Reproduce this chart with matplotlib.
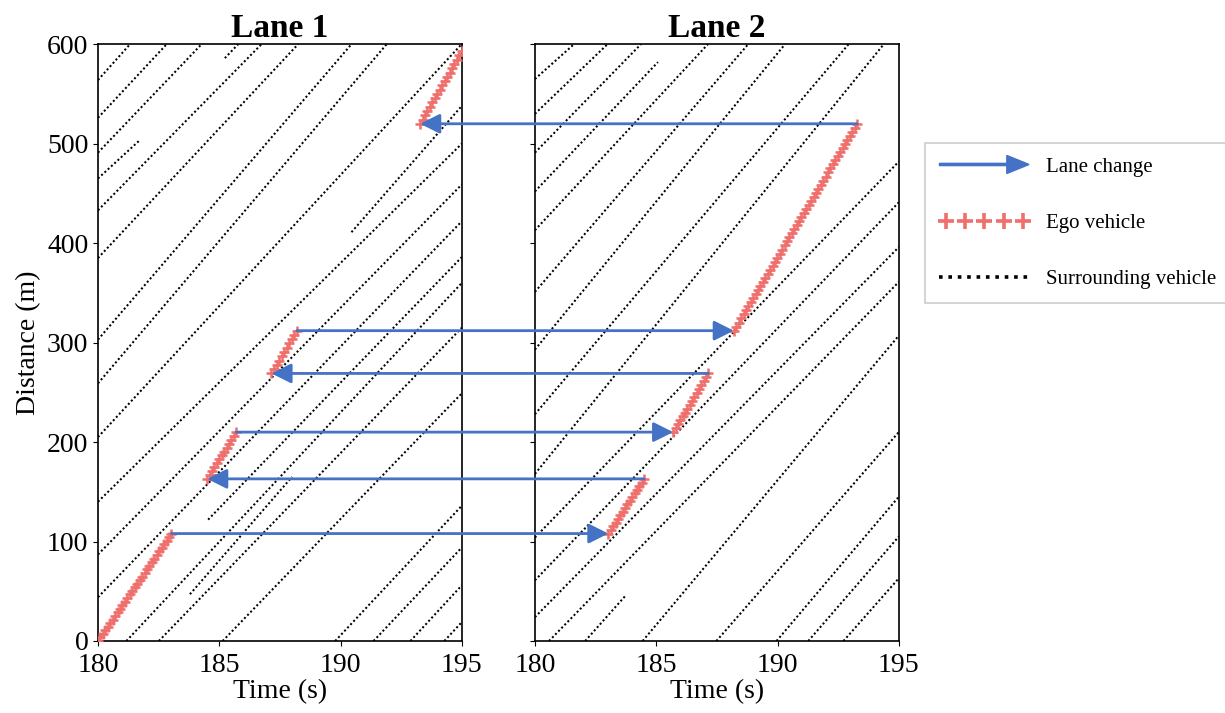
import numpy as np
import matplotlib
matplotlib.use('Agg')
import matplotlib.pyplot as plt
import matplotlib.patches as mpatches
from matplotlib.lines import Line2D
from matplotlib.patches import ConnectionPatch
from matplotlib.legend_handler import HandlerPatch, HandlerLine2D

plt.rcParams['font.family'] = 'serif'
plt.rcParams['font.serif'] = ['Liberation Serif', 'DejaVu Serif']

# surrounding vehicles in lane 1: (start time, start dist) -> (end time, end dist)
lane1_t0 = [180, 180, 180, 180, 180, 180, 180, 180, 180, 190.45, 185.23, 180, 180, 180,
            184.54, 181.17, 183.79, 182.51, 185.14, 189.78, 191.36, 192.88, 194.28]
lane1_d0 = [564, 526, 491, 465, 433, 385, 303, 259, 205, 411, 586, 140, 87, 44,
            122, 0, 47, 0, 0, 0, 0, 0, 0]
lane1_t1 = [181.32, 182.83, 184.27, 181.7, 186.74, 188.25, 190.45, 191.9, 194.99, 195, 185.78, 195, 195, 195,
            195, 195, 188.0, 195, 195, 195, 195, 195, 195]
lane1_d1 = [600, 600, 600, 503, 600, 600, 600, 600, 600, 538, 600, 500, 459, 422,
            386, 360, 165, 315, 249, 136, 94, 56, 19]

# surrounding vehicles in lane 2
lane2_t0 = [180, 180, 180, 180, 180, 180, 180, 180, 180, 180, 180, 180,
            180.58, 182.07, 184.44, 187.48, 189.96, 191.27, 192.72]
lane2_d0 = [565, 530, 491, 452, 413, 351, 293, 228, 168, 104, 61, 24,
            0, 0, 0, 0, 0, 0, 0]
lane2_t1 = [181.61, 182.99, 184.37, 185.07, 187.13, 188.79, 190.31, 192.93, 194.38, 195, 195, 195,
            195, 183.75, 195, 195, 195, 195, 195]
lane2_d1 = [600, 600, 600, 582, 600, 600, 600, 600, 600, 482, 441, 396,
            361, 46, 307, 210, 145, 105, 63]

# ego vehicle: lane change points and the lane driven between them
ego_t = [180, 183.03, 184.5, 185.7, 187.15, 188.2, 193.28, 195]
ego_d = [0, 108, 163, 210, 269, 312, 520, 593]
ego_lane = [1, 2, 1, 2, 1, 2, 1]
ego_step = 0.1   # sampling step of the ego trajectory (s)

ego_col = '#EF6F6C'
arrow_col = '#4472C4'
dot_style = (0, (1, 1.2))

fig = plt.figure(figsize=(12.25, 7.13), dpi=100)
ax1 = fig.add_axes([0.080, 0.101, 0.297, 0.837])
ax2 = fig.add_axes([0.4367, 0.101, 0.297, 0.837])
axes = {1: ax1, 2: ax2}

for ax, t0, d0, t1, d1 in [(ax1, lane1_t0, lane1_d0, lane1_t1, lane1_d1),
                           (ax2, lane2_t0, lane2_d0, lane2_t1, lane2_d1)]:
    for i in range(len(t0)):
        ax.plot([t0[i], t1[i]], [d0[i], d1[i]], color='black', linestyle=dot_style, linewidth=1.45)

# ego trajectory, one segment per lane stay
for k in range(len(ego_lane)):
    n = int(round((ego_t[k + 1] - ego_t[k]) / ego_step)) + 1
    ts = np.linspace(ego_t[k], ego_t[k + 1], n)
    ds = np.linspace(ego_d[k], ego_d[k + 1], n)
    axes[ego_lane[k]].plot(ts, ds, linestyle='none', marker='+', markersize=7,
                           markeredgewidth=1.8, color=ego_col, zorder=4)

for ax, title in [(ax1, 'Lane 1'), (ax2, 'Lane 2')]:
    ax.set_xlim(180, 195)
    ax.set_ylim(0, 600)
    ax.set_xticks([180, 185, 190, 195])
    ax.set_yticks(range(0, 601, 100))
    ax.tick_params(labelsize=20)
    ax.tick_params(axis='x', pad=5)
    ax.set_xlabel('Time (s)', fontsize=20, labelpad=1)
    ax.set_title(title, fontsize=24, fontweight='bold', pad=4)
    for s in ax.spines.values():
        s.set_linewidth(1.2)
ax1.set_ylabel('Distance (m)', fontsize=20, labelpad=4)
ax2.set_yticklabels([])

# lane change arrows between the two panels
for k in range(1, len(ego_lane)):
    src = axes[ego_lane[k - 1]]
    dst = axes[ego_lane[k]]
    con = ConnectionPatch(xyA=(ego_t[k], ego_d[k]), coordsA=src.transData,
                          xyB=(ego_t[k], ego_d[k]), coordsB=dst.transData,
                          arrowstyle='-|>', mutation_scale=30, color=arrow_col,
                          linewidth=2, shrinkA=0, shrinkB=0, zorder=5)
    fig.add_artist(con)


def make_arrow(legend, orig_handle, xdescent, ydescent, width, height, fontsize):
    return mpatches.FancyArrow(0, 0.5 * height, width, 0, width=1.6,
                               head_width=13, head_length=16,
                               length_includes_head=True, color=arrow_col)


h_arrow = mpatches.FancyArrow(0, 0, 1, 0, color=arrow_col)
h_ego = Line2D([], [], linestyle='none', marker='+', markersize=11,
               markeredgewidth=2.6, color=ego_col)
h_sur = Line2D([], [], color='black', linestyle=(0, (1, 1.6)), linewidth=2.6)

leg = fig.legend([h_arrow, h_ego, h_sur], ['Lane change', 'Ego vehicle', 'Surrounding vehicle'],
                 loc='upper left', bbox_to_anchor=(0.755, 0.80), fontsize=15,
                 frameon=True, fancybox=False, edgecolor='#bfbfbf', borderaxespad=0,
                 borderpad=0.7, labelspacing=1.75, handlelength=4.3, handletextpad=0.8,
                 handler_map={h_arrow: HandlerPatch(patch_func=make_arrow),
                              h_ego: HandlerLine2D(numpoints=5)})
leg.get_frame().set_linewidth(1.2)

fig.savefig('out.png', dpi=100)
